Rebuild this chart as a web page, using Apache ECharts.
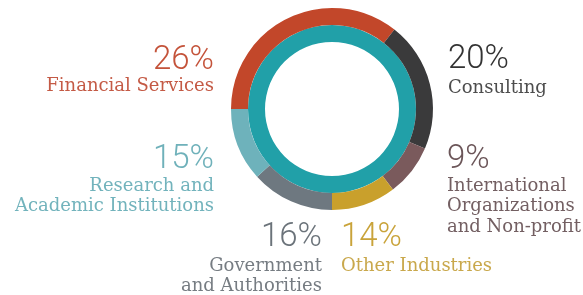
<!DOCTYPE html>
<html lang="en">
<head>
  <meta charset="UTF-8">
  <title>Sectors</title>
  <style>
    html, body { margin: 0; padding: 0; background: #fff; }
  </style>
</head>
<body>
<div id="main" style="width: 583px;height:295px;"></div>
<script src="https://cdn.jsdelivr.net/npm/echarts@6/dist/echarts.min.js"></script>
<script type="text/javascript">
  // sectors, clockwise from 9 o'clock
  const sectors = ['Financial Services', 'Consulting', 'International Organizations and Non-profit',
    'Other Industries', 'Government and Authorities', 'Research and Academic Institutions']
  // percentages printed next to the ring
  const labelPercents = [26, 20, 9, 14, 16, 15]
  // arc sizes as drawn in the picture (the ring is not to scale)
  const arcShares = [35.6, 20.8, 8.3, 10.3, 13.3, 11.7]
  const labelLines = [
    ['Financial Services'],
    ['Consulting'],
    ['International', 'Organizations', 'and Non-profit'],
    ['Other Industries'],
    ['Government', 'and Authorities'],
    ['Research and', 'Academic Institutions']
  ]

  const ringColors = ['#c2472a', '#3a3a3b', '#7a5a5c', '#c9a02c', '#6e7880', '#6eb2bb']
  const percentColors = ['#c4533a', '#333333', '#6b5558', '#c9a33a', '#6b737a', '#6fb1ba']
  const nameColors = ['#c45a45', '#4d4d4d', '#735f62', '#c9a84c', '#767c82', '#72b3bc']

  // label anchors: x, align, percent middle y, first name line middle y
  const labelPos = [
    { x: 214, align: 'right', py: 61, ny: 86 },
    { x: 448, align: 'left', py: 60, ny: 88 },
    { x: 447, align: 'left', py: 160, ny: 186 },
    { x: 341, align: 'left', py: 238, ny: 266 },
    { x: 322, align: 'right', py: 238, ny: 266 },
    { x: 214, align: 'right', py: 160, ny: 186 }
  ]
  const lineGap = 20.5

  const Chart = echarts.init(document.getElementById('main'))

  const texts = []
  sectors.forEach((s, i) => {
    const p = labelPos[i]
    texts.push({
      type: 'text',
      x: p.x,
      y: p.py,
      style: {
        text: labelPercents[i] + '%',
        fill: percentColors[i],
        font: '300 33px Roboto',
        align: p.align,
        verticalAlign: 'middle'
      }
    })
    labelLines[i].forEach((line, j) => {
      texts.push({
        type: 'text',
        x: p.x,
        y: p.ny + j * lineGap,
        style: {
          text: line,
          fill: nameColors[i],
          font: '18px "DejaVu Serif"',
          align: p.align,
          verticalAlign: 'middle'
        }
      })
    })
  })

  const option = {
    animation: false,
    series: [{
      name: 'inner',
      type: 'pie',
      silent: true,
      center: [332, 109],
      radius: [67, 84],
      label: { show: false },
      data: [{ value: 100, itemStyle: { color: '#21a0a8' } }]
    }, {
      name: 'sectors',
      type: 'pie',
      silent: true,
      center: [332, 109],
      radius: [84, 101],
      startAngle: 180,
      clockwise: true,
      label: { show: false },
      labelLine: { show: false },
      data: sectors.map((s, i) => ({
        name: s,
        value: arcShares[i],
        itemStyle: { color: ringColors[i] }
      }))
    }],
    graphic: texts
  }

  Chart.setOption(option)
</script>
</body>
</html>
